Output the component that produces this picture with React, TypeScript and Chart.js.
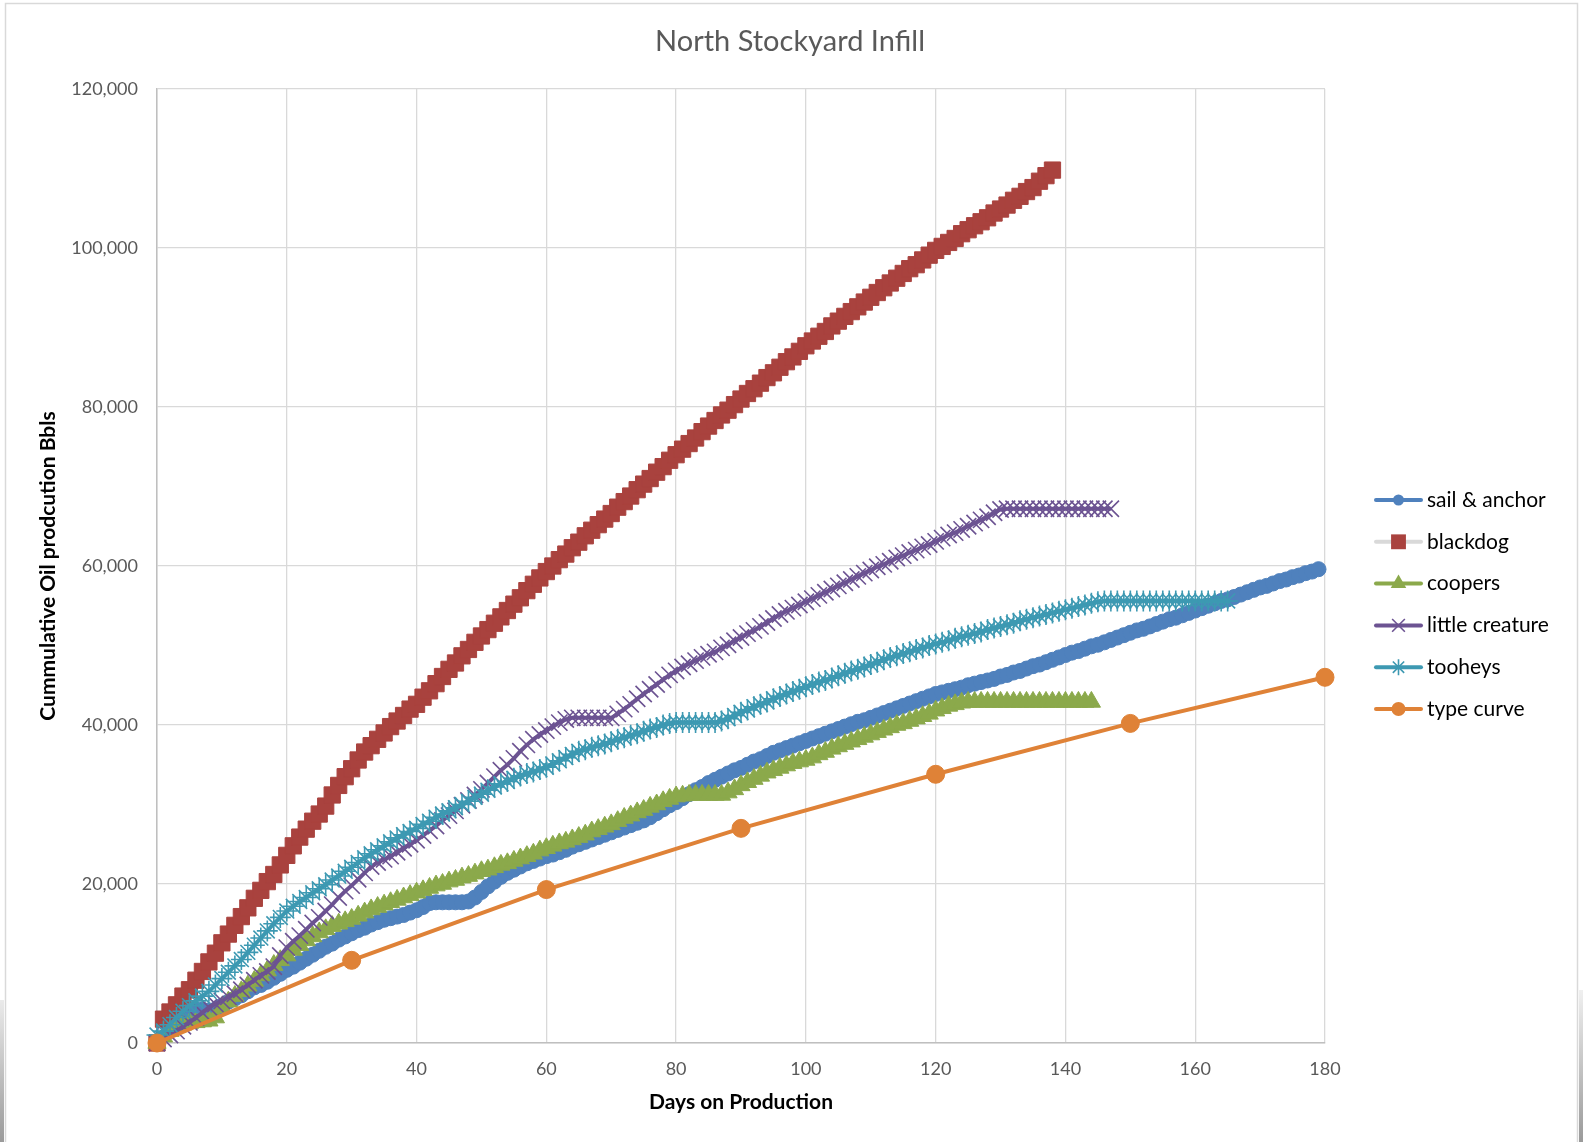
import React, { useEffect, useRef } from 'react';
import { Chart, registerables } from 'chart.js';

Chart.register(...registerables);

const FONT = 'Lato, "Open Sans", sans-serif';

const chartTitle = 'North Stockyard Infill';
const xTitle = 'Days on Production';
const yTitle = 'Cummulative Oil prodcution Bbls';
const seriesNames = ['sail & anchor', 'blackdog', 'coopers', 'little creature', 'tooheys', 'type curve'];

const xMin = 0;
const xMax = 180;
const xStep = 20;
const yMin = 0;
const yMax = 120000;
const yStep = 20000;

// daily cumulative values, index = day on production
const sailAnchor = [
  0, 1200, 2200, 3000, 3600, 4000, 4200, 4200, 4100, 4200,
  4700, 5200, 5600, 6000, 6500, 7000, 7300, 7700, 8200, 8700,
  9200, 9600, 10100, 10600, 11100, 11600, 12100, 12500, 13000, 13400,
  13800, 14200, 14500, 14900, 15200, 15500, 15700, 15900, 16100, 16400,
  16700, 17100, 17600, 17700, 17700, 17700, 17700, 17700, 17800, 18300,
  19000, 19700, 20300, 20900, 21400, 21800, 22200, 22600, 22900, 23200,
  23500, 23700, 24000, 24300, 24700, 25000, 25300, 25600, 25900, 26200,
  26500, 26800, 27100, 27400, 27700, 28000, 28400, 28900, 29400, 29900,
  30300, 30800, 31300, 31800, 32200, 32700, 33100, 33500, 33900, 34300,
  34600, 35000, 35400, 35700, 36100, 36500, 36800, 37100, 37400, 37700,
  38000, 38300, 38600, 38900, 39200, 39500, 39800, 40100, 40400, 40600,
  40900, 41200, 41500, 41800, 42100, 42400, 42700, 43000, 43300, 43600,
  43900, 44100, 44300, 44500, 44700, 45000, 45200, 45400, 45600, 45800,
  46100, 46300, 46600, 46800, 47100, 47400, 47600, 47900, 48200, 48500,
  48800, 49100, 49300, 49600, 49900, 50100, 50400, 50700, 51000, 51300,
  51600, 51900, 52100, 52400, 52700, 53000, 53300, 53500, 53800, 54100,
  54400, 54700, 55000, 55300, 55600, 55800, 56100, 56400, 56700, 57000,
  57300, 57500, 57800, 58100, 58300, 58600, 58800, 59100, 59300, 59600,
];

const blackdog = [
  0, 3000, 3900, 4800, 5900, 6700, 7900, 9000, 10200, 11300,
  12600, 13700, 14800, 15900, 17000, 18200, 19200, 20300, 21200, 22400,
  23600, 24800, 25900, 26900, 27900, 28800, 29800, 31200, 32400, 33500,
  34500, 35600, 36600, 37400, 38200, 39000, 39800, 40500, 41200, 42000,
  42600, 43500, 44300, 45200, 46100, 47000, 47800, 48700, 49500, 50400,
  51200, 52000, 52800, 53600, 54400, 55200, 56000, 56900, 57700, 58500,
  59300, 60000, 60800, 61500, 62300, 63000, 63800, 64500, 65200, 65900,
  66600, 67400, 68100, 68800, 69600, 70300, 71000, 71800, 72500, 73300,
  74000, 74700, 75400, 76100, 76900, 77600, 78300, 79000, 79600, 80300,
  81000, 81700, 82300, 83000, 83700, 84300, 85000, 85700, 86300, 87000,
  87700, 88300, 88900, 89500, 90200, 90800, 91400, 92000, 92600, 93200,
  93800, 94400, 95000, 95600, 96200, 96800, 97400, 97900, 98500, 99100,
  99700, 100200, 100700, 101200, 101800, 102300, 102800, 103300, 103800, 104400,
  104900, 105400, 106000, 106500, 107100, 107600, 108400, 109100, 109800,
];

const coopers = [
  0, 800, 1500, 2000, 2300, 2500, 2600, 2700, 2800, 3200,
  4500, 5200, 5900, 6500, 7200, 7800, 8500, 9100, 9800, 10400,
  11000, 11700, 12300, 12900, 13400, 13900, 14300, 14700, 15000, 15300,
  15600, 16000, 16400, 16800, 17100, 17400, 17700, 18000, 18300, 18600,
  18900, 19200, 19500, 19800, 20000, 20300, 20500, 20800, 21000, 21300,
  21600, 21800, 22100, 22400, 22600, 22900, 23200, 23500, 23800, 24200,
  24500, 24800, 25100, 25300, 25600, 25900, 26200, 26600, 26900, 27200,
  27500, 27900, 28300, 28600, 29000, 29300, 29700, 30000, 30400, 30700,
  31000, 31100, 31200, 31200, 31200, 31200, 31200, 31200, 31500, 31900,
  32400, 32800, 33200, 33600, 34000, 34300, 34600, 34900, 35200, 35400,
  35600, 35900, 36300, 36600, 37000, 37300, 37600, 37900, 38200, 38500,
  38800, 39100, 39400, 39700, 40000, 40200, 40500, 40800, 41100, 41400,
  41800, 42100, 42400, 42600, 42800, 42900, 42900, 42900, 42900, 42900,
  42900, 42900, 42900, 42900, 42900, 42900, 42900, 42900, 42900, 42900,
  42900, 42900, 42900, 42900, 42900,
];

const littleCreature = [
  0, 500, 1000, 1500, 2100, 2600, 3200, 3800, 4500, 4900,
  5300, 5800, 6200, 6700, 7300, 7900, 8500, 9000, 9600, 11000,
  12000, 12800, 13500, 14300, 15100, 15800, 16600, 17400, 18300, 19100,
  19800, 20600, 21400, 22200, 22700, 23100, 23500, 24000, 24500, 25000,
  25500, 26100, 26700, 27300, 28000, 28600, 29200, 29900, 30500, 31200,
  31900, 32700, 33500, 34300, 35000, 35800, 36700, 37500, 38200, 38800,
  39300, 39800, 40300, 40700, 40900, 40900, 40900, 40900, 40900, 40900,
  40900, 41400, 42000, 42600, 43300, 43900, 44500, 45100, 45700, 46300,
  46800, 47300, 47700, 48100, 48500, 48900, 49200, 49700, 50100, 50600,
  51000, 51500, 51900, 52400, 52900, 53400, 53900, 54300, 54700, 55100,
  55500, 55900, 56300, 56700, 57100, 57500, 57900, 58300, 58700, 59100,
  59500, 59900, 60200, 60600, 61000, 61300, 61700, 62000, 62400, 62700,
  63100, 63500, 63900, 64200, 64600, 65000, 65400, 65800, 66200, 66700,
  67100, 67200, 67200, 67200, 67200, 67200, 67200, 67200, 67200, 67200,
  67200, 67200, 67200, 67200, 67200, 67200, 67200, 67200,
];

const tooheys = [
  1000, 1500, 2300, 3200, 4000, 4700, 5300, 5900, 6500, 7300,
  8100, 8900, 9700, 10500, 11400, 12300, 13200, 14100, 15000, 15800,
  16600, 17200, 17800, 18300, 18900, 19400, 19900, 20500, 21000, 21600,
  22100, 22700, 23300, 23800, 24300, 24800, 25300, 25800, 26200, 26600,
  27000, 27500, 27900, 28400, 28800, 29200, 29600, 30000, 30400, 30900,
  31300, 31800, 32200, 32600, 32900, 33300, 33600, 33900, 34100, 34400,
  34700, 35100, 35500, 35900, 36300, 36700, 36900, 37200, 37400, 37600,
  37900, 38200, 38400, 38700, 38900, 39200, 39500, 39700, 40000, 40200,
  40300, 40300, 40300, 40300, 40300, 40300, 40300, 40500, 40800, 41200,
  41600, 41900, 42300, 42600, 42900, 43300, 43600, 43900, 44200, 44500,
  44800, 45100, 45400, 45600, 45900, 46200, 46500, 46800, 47000, 47300,
  47600, 47900, 48200, 48500, 48700, 49000, 49200, 49500, 49700, 50000,
  50200, 50400, 50600, 50900, 51100, 51300, 51500, 51700, 52000, 52200,
  52400, 52600, 52800, 53100, 53300, 53500, 53700, 53900, 54100, 54300,
  54500, 54700, 54900, 55100, 55300, 55500, 55600, 55600, 55600, 55600,
  55600, 55600, 55600, 55600, 55600, 55600, 55600, 55600, 55600, 55600,
  55600, 55600, 55600, 55600, 55600, 55600,
];

const typeCurveDays = [0, 30, 60, 90, 120, 150, 180];
const typeCurve = [0, 10400, 19300, 27000, 33800, 40200, 46000];

type Style = {
  color: string;
  line: string;
  point: string;
  r: number;
  lr: number;
  pbw: number;
};

const styles: Style[] = [
  { color: '#4F81BD', line: '#4F81BD', point: 'circle', r: 7.5, lr: 5.5, pbw: 1 },
  { color: '#A9423E', line: '#D9D9D9', point: 'rect', r: 11.5, lr: 10.5, pbw: 1 },
  { color: '#8BA94B', line: '#8BA94B', point: 'triangle', r: 10.5, lr: 9, pbw: 1 },
  { color: '#6C5392', line: '#6C5392', point: 'crossRot', r: 11.5, lr: 9, pbw: 1.6 },
  { color: '#3D99B2', line: '#3D99B2', point: 'star', r: 10.5, lr: 8, pbw: 1.6 },
  { color: '#DF8237', line: '#DF8237', point: 'circle', r: 9, lr: 7, pbw: 1 },
];

const daily = (vals: number[]) => vals.map((v, i) => ({ x: i, y: v }));

const seriesData = [
  daily(sailAnchor),
  daily(blackdog),
  daily(coopers),
  daily(littleCreature),
  daily(tooheys),
  typeCurve.map((v, i) => ({ x: typeCurveDays[i], y: v })),
];

function drawMarker(ctx: CanvasRenderingContext2D, style: string, x: number, y: number, r: number, color: string, lw: number) {
  ctx.save();
  ctx.fillStyle = color;
  ctx.strokeStyle = color;
  ctx.lineWidth = lw;
  ctx.beginPath();
  if (style === 'circle') {
    ctx.arc(x, y, r, 0, Math.PI * 2);
    ctx.fill();
  } else if (style === 'rect') {
    const s = Math.SQRT1_2 * r;
    ctx.rect(x - s, y - s, 2 * s, 2 * s);
    ctx.fill();
  } else if (style === 'triangle') {
    let a = 0;
    ctx.moveTo(x + Math.sin(a) * r, y - Math.cos(a) * r);
    a += (2 * Math.PI) / 3;
    ctx.lineTo(x + Math.sin(a) * r, y - Math.cos(a) * r);
    a += (2 * Math.PI) / 3;
    ctx.lineTo(x + Math.sin(a) * r, y - Math.cos(a) * r);
    ctx.closePath();
    ctx.fill();
  } else {
    const d = Math.SQRT1_2 * r;
    ctx.moveTo(x - d, y - d);
    ctx.lineTo(x + d, y + d);
    ctx.moveTo(x - d, y + d);
    ctx.lineTo(x + d, y - d);
    if (style === 'star') {
      ctx.moveTo(x, y - r);
      ctx.lineTo(x, y + r);
      ctx.moveTo(x - r, y);
      ctx.lineTo(x + r, y);
    }
    ctx.stroke();
  }
  ctx.restore();
}

const overlayPlugin = {
  id: 'overlay',
  beforeDraw(chart: any) {
    const ctx: CanvasRenderingContext2D = chart.ctx;
    ctx.save();
    ctx.fillStyle = '#ffffff';
    ctx.fillRect(0, 0, chart.width, chart.height);
    // outer chart frame
    ctx.strokeStyle = '#D9D9D9';
    ctx.lineWidth = 1.5;
    ctx.strokeRect(5.5, 3.5, 1572, 1160);
    // photo background peeking at the edges
    const g = ctx.createLinearGradient(0, 990, 0, 1142);
    g.addColorStop(0, '#f0f0f0');
    g.addColorStop(1, '#9a9a9a');
    ctx.fillStyle = g;
    ctx.fillRect(1579, 990, 4, 152);
    ctx.fillRect(0, 1000, 4, 142);
    ctx.restore();
  },
  afterDraw(chart: any) {
    const ctx: CanvasRenderingContext2D = chart.ctx;
    ctx.save();
    ctx.fillStyle = '#595959';
    ctx.font = `29px ${FONT}`;
    ctx.textAlign = 'center';
    ctx.textBaseline = 'middle';
    ctx.fillText(chartTitle, 790, 42);

    const top = 500;
    const step = 41.8;
    seriesNames.forEach((name, i) => {
      const st = styles[i];
      const y = top + i * step;
      ctx.save();
      ctx.strokeStyle = st.line;
      ctx.lineWidth = 4;
      ctx.lineCap = 'round';
      ctx.beginPath();
      ctx.moveTo(1376, y);
      ctx.lineTo(1421, y);
      ctx.stroke();
      ctx.restore();
      drawMarker(ctx, st.point, 1398.5, y, st.lr, st.color, st.pbw);
      ctx.fillStyle = '#000000';
      ctx.font = `21px ${FONT}`;
      ctx.textAlign = 'left';
      ctx.textBaseline = 'middle';
      ctx.fillText(name, 1427, y);
    });
    ctx.restore();
  },
};

export default function App() {
  const canvasRef = useRef<HTMLCanvasElement | null>(null);

  useEffect(() => {
    const canvas = canvasRef.current;
    if (!canvas) return;
    const n = seriesNames.length;
    const chart = new Chart(canvas, {
      type: 'line',
      data: {
        datasets: seriesNames.map((name, i) => ({
          label: name,
          data: seriesData[i],
          borderColor: styles[i].line,
          backgroundColor: styles[i].color,
          borderWidth: 4,
          pointStyle: styles[i].point as any,
          pointRadius: styles[i].r,
          pointHoverRadius: styles[i].r,
          pointBackgroundColor: styles[i].color,
          pointBorderColor: styles[i].color,
          pointBorderWidth: styles[i].pbw,
          tension: 0,
          fill: false,
          clip: false as any,
          order: n - 1 - i,
        })),
      },
      options: {
        animation: false,
        responsive: false,
        devicePixelRatio: 1,
        events: [],
        layout: { padding: { left: 0, top: 89, right: 258, bottom: 0 } },
        plugins: {
          legend: { display: false },
          tooltip: { enabled: false },
          title: { display: false },
        },
        scales: {
          x: {
            type: 'linear',
            min: xMin,
            max: xMax,
            afterFit: (s: any) => {
              s.height = 99;
            },
            ticks: {
              stepSize: xStep,
              padding: 15,
              color: '#595959',
              font: { family: FONT, size: 18, lineHeight: 1.2 },
            },
            grid: { color: '#D9D9D9', lineWidth: 1.3, drawTicks: false },
            border: { color: '#BFBFBF', width: 1.5 },
            title: {
              display: true,
              text: xTitle,
              color: '#000000',
              font: { family: FONT, size: 21, weight: 'bold', lineHeight: 1.2 },
              padding: { top: 0, bottom: 27 },
            },
          },
          y: {
            type: 'linear',
            min: yMin,
            max: yMax,
            afterFit: (s: any) => {
              s.width = 157;
            },
            ticks: {
              stepSize: yStep,
              padding: 19,
              color: '#595959',
              font: { family: FONT, size: 18, lineHeight: 1.2 },
              callback: (v: any) => Number(v).toLocaleString('en-US'),
            },
            grid: { color: '#D9D9D9', lineWidth: 1.3, drawTicks: false },
            border: { color: '#BFBFBF', width: 1.5 },
            title: {
              display: true,
              text: yTitle,
              color: '#000000',
              font: { family: FONT, size: 21, weight: 'bold', lineHeight: 1.2 },
              padding: { top: 36, bottom: 0 },
            },
          },
        },
      },
      plugins: [overlayPlugin],
    });
    return () => chart.destroy();
  }, []);

  return (
    <div style={{ position: 'absolute', left: 0, top: 0, width: 1583, height: 1142, background: '#ffffff' }}>
      <canvas ref={canvasRef} width={1583} height={1142} style={{ display: 'block', width: 1583, height: 1142 }} />
    </div>
  );
}
